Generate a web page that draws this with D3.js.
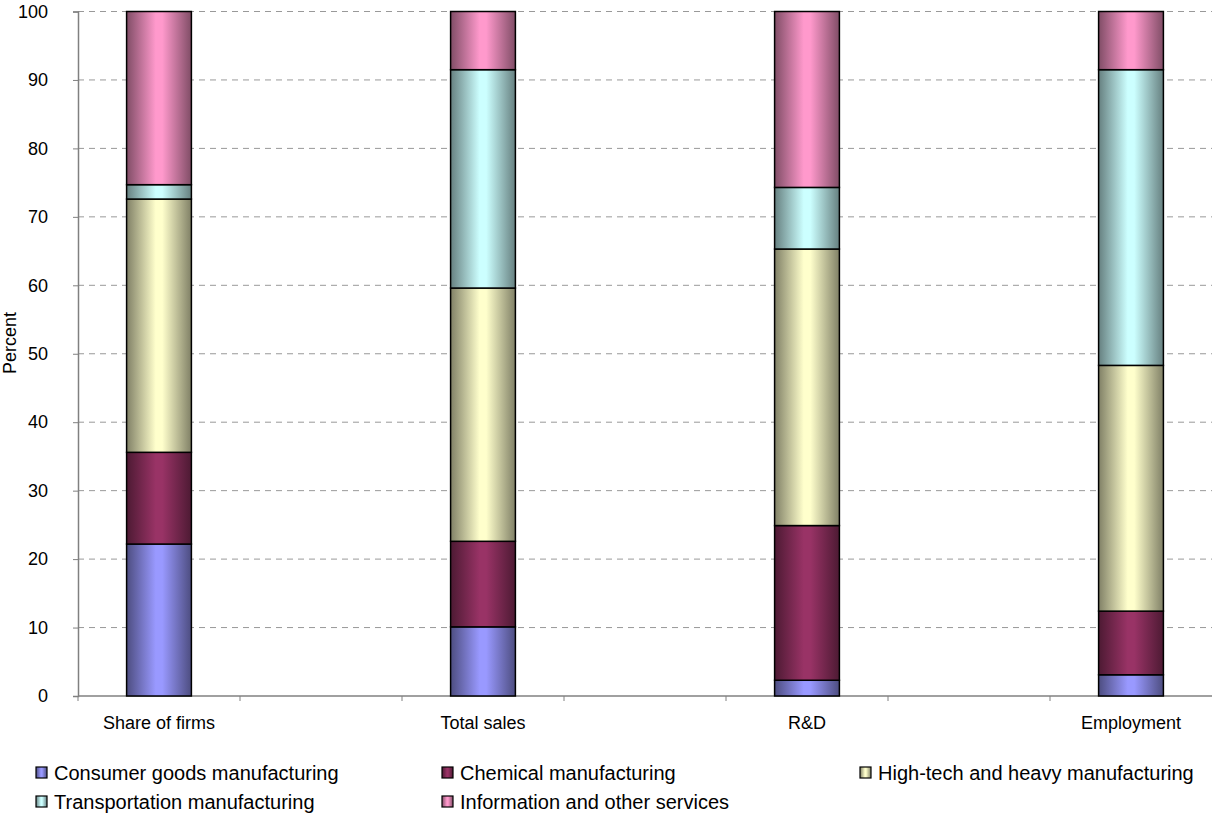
<!doctype html>
<html lang="en">
<head>
<meta charset="utf-8">
<title>Stacked shares by industry</title>
<script src="https://cdn.jsdelivr.net/npm/d3@7"></script>
<style>
  body { margin: 0; background: #fff; }
  text { font-family: "Liberation Sans", Arial, sans-serif; fill: #000; }
</style>
</head>
<body>
<script>
// chart data
var categories = ["Share of firms", "Total sales", "R&D", "Employment"];
var seriesNames = ["Consumer goods manufacturing", "Chemical manufacturing",
    "High-tech and heavy manufacturing", "Transportation manufacturing",
    "Information and other services"];
var consumer  = [22.2, 10.1, 2.3, 3.1];
var chemical  = [13.4, 12.5, 22.6, 9.3];
var hightech  = [37.0, 37.0, 40.4, 35.9];
var transport = [2.1, 31.9, 9.0, 43.2];
var info      = [25.3, 8.5, 25.7, 8.5];
var yTicks = [0, 10, 20, 30, 40, 50, 60, 70, 80, 90, 100];
var colors = ["#9999ff", "#993366", "#ffffcc", "#ccffff", "#ff99cc"];

var W = 1212, H = 815;
var mLeft = 78, mRight = 1212, mTop = 11.5, mBottom = 696;

var svg = d3.select("body").append("svg")
    .attr("width", W).attr("height", H);

var defs = svg.append("defs");
colors.forEach(function(c, i) {
    var dark = d3.interpolateRgb(c, "#000")(0.5);
    var g = defs.append("linearGradient").attr("id", "grad" + i)
        .attr("x1", "0%").attr("x2", "100%").attr("y1", "0%").attr("y2", "0%");
    g.append("stop").attr("offset", "0%").attr("stop-color", dark);
    g.append("stop").attr("offset", "45%").attr("stop-color", c);
    g.append("stop").attr("offset", "55%").attr("stop-color", c);
    g.append("stop").attr("offset", "100%").attr("stop-color", dark);
});

// 7 slots on the category axis, categories sit in every other slot
var slots = d3.range(categories.length * 2 - 1);
var x = d3.scaleBand().domain(slots).range([mLeft, mRight]).paddingInner(0).paddingOuter(0);
var y = d3.scaleLinear().domain([0, 100]).range([mBottom, mTop]);

// gridlines
svg.append("g").selectAll("line").data(yTicks.filter(function(d){ return d > 0; }))
    .enter().append("line")
    .attr("x1", mLeft).attr("x2", mRight)
    .attr("y1", function(d){ return y(d); }).attr("y2", function(d){ return y(d); })
    .attr("stroke", "#999").attr("stroke-dasharray", "6,5");

// y axis
var yAxis = svg.append("g").attr("transform", "translate(" + mLeft + ",0)")
    .call(d3.axisLeft(y).tickValues(yTicks).tickSize(5).tickPadding(25));
yAxis.select(".domain").attr("stroke", "#808080").attr("stroke-width", 1.5);
yAxis.selectAll(".tick line").attr("stroke", "#808080");
yAxis.selectAll("text").attr("font-family", null).attr("font-size", null)
    .style("font-size", "18px");

svg.append("text")
    .attr("transform", "translate(16,343) rotate(-90)")
    .attr("text-anchor", "middle").style("font-size", "18px")
    .text("Percent");

// x axis with ticks between slots
var xg = svg.append("g");
xg.append("line").attr("x1", mLeft).attr("x2", mRight)
    .attr("y1", mBottom).attr("y2", mBottom).attr("stroke", "#808080").attr("stroke-width", 1.5);
xg.selectAll("line.tk").data(slots).enter().append("line").attr("class", "tk")
    .attr("x1", function(d){ return x(d); }).attr("x2", function(d){ return x(d); })
    .attr("y1", mBottom).attr("y2", mBottom + 5).attr("stroke", "#808080");
xg.selectAll("text").data(categories).enter().append("text")
    .attr("x", function(d, i){ return x(i * 2) + x.bandwidth() / 2; })
    .attr("y", mBottom + 33)
    .attr("text-anchor", "middle").style("font-size", "18px")
    .text(function(d){ return d; });

// stacked bars
var rows = categories.map(function(c, i) {
    return { cat: c, slot: i * 2, s0: consumer[i], s1: chemical[i], s2: hightech[i], s3: transport[i], s4: info[i] };
});
var stack = d3.stack().keys(["s0", "s1", "s2", "s3", "s4"])(rows);
var barW = x.bandwidth() * 0.4;

svg.append("g").selectAll("g").data(stack).enter().append("g")
    .attr("fill", function(d, i){ return "url(#grad" + i + ")"; })
    .selectAll("rect").data(function(d){ return d; }).enter().append("rect")
    .attr("x", function(d){ return x(d.data.slot) + (x.bandwidth() - barW) / 2; })
    .attr("width", barW)
    .attr("y", function(d){ return y(d[1]); })
    .attr("height", function(d){ return y(d[0]) - y(d[1]); })
    .attr("stroke", "#000").attr("stroke-width", 1.5);

// legend
var legX = [36, 442, 860], legY = [773, 802];
var leg = svg.append("g").selectAll("g").data(seriesNames).enter().append("g")
    .attr("transform", function(d, i){ return "translate(" + legX[i % 3] + "," + legY[Math.floor(i / 3)] + ")"; });
leg.append("rect").attr("x", 0).attr("y", -6).attr("width", 11).attr("height", 11)
    .attr("fill", function(d, i){ return "url(#grad" + i + ")"; })
    .attr("stroke", "#000").attr("stroke-width", 1.2);
leg.append("text").attr("x", 18).attr("y", 7).style("font-size", "20px")
    .text(function(d){ return d; });
</script>
</body>
</html>
